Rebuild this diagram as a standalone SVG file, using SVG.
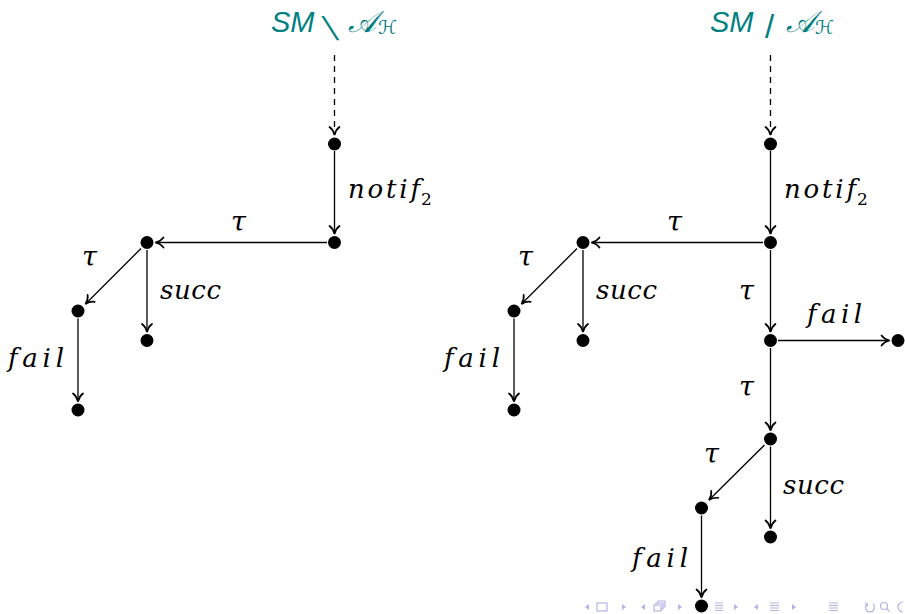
<svg xmlns="http://www.w3.org/2000/svg" width="905" height="614" viewBox="0 0 905 614">
<style>
.e{stroke:#000;stroke-width:1.3;fill:none;marker-end:url(#ah)}
.d{stroke:#000;stroke-width:1.3;fill:none;stroke-dasharray:6 5;marker-end:url(#ah)}
.n{fill:#000}
.l{font-family:"DejaVu Serif","Liberation Serif",serif;font-style:italic;font-size:26px;fill:#000}
.g{font-family:"DejaVu Serif","Liberation Serif",serif;font-style:italic;font-size:27px;fill:#000}
.s{font-family:"DejaVu Serif","Liberation Serif",serif;font-size:17px;fill:#000}
.t{font-family:"Liberation Sans","DejaVu Sans",sans-serif;font-style:italic;font-size:29px;fill:#008080}
.k{font-family:"Liberation Sans","DejaVu Sans",sans-serif;font-size:33px;fill:#008080}
.c{font-family:"DejaVu Sans","Noto Sans",sans-serif;fill:#008080}
.nav{fill:#b4b4e4;stroke:none}
.navs{fill:none;stroke:#b4b4e4;stroke-width:1.2}
</style>
<defs>
<marker id="ah" viewBox="-10 -7 12 14" refX="0" refY="0" markerWidth="12" markerHeight="14" markerUnits="userSpaceOnUse" orient="auto">
<path d="M-8,-5 C-6,-2.2 -2.5,-0.6 0,0 C-2.5,0.6 -6,2.2 -8,5" stroke="#000" stroke-width="1.7" fill="none" stroke-linecap="round"/>
</marker>
</defs>

<g id="title-left">
<text class="t" x="271" y="32">SM</text>
<text class="k" transform="translate(330,40) skewX(20)" x="0" y="0">\</text>
<text class="c" x="348" y="32" font-size="30" font-style="italic">𝒜</text>
<text class="c" x="378" y="34" font-size="19">ℋ</text>
</g>
<g id="title-right">
<text class="t" x="710" y="32">SM</text>
<text class="k" x="765" y="38">/</text>
<text class="c" x="786" y="32" font-size="30" font-style="italic">𝒜</text>
<text class="c" x="815" y="34" font-size="19">ℋ</text>
</g>

<g id="connectors">
<path class="d" d="M334.5,55 V135"/>
<path class="e" d="M334.5,151 V234"/>
<path class="e" d="M327,242.5 H155.5"/>
<path class="e" d="M141,248.5 L85.5,304"/>
<path class="e" d="M147,250 V332"/>
<path class="e" d="M78,318.5 V401.5"/>

<path class="d" d="M770.5,55 V135"/>
<path class="e" d="M770.5,151 V234"/>
<path class="e" d="M763,242.5 H591.5"/>
<path class="e" d="M577,248.5 L521.5,304"/>
<path class="e" d="M583,250 V332"/>
<path class="e" d="M514,318.5 V401.5"/>
<path class="e" d="M770.5,250 V332"/>
<path class="e" d="M778,340.5 H889.5"/>
<path class="e" d="M770.5,348 V430.5"/>
<path class="e" d="M764.5,445 L709,500"/>
<path class="e" d="M770.5,446.5 V528.5"/>
<path class="e" d="M701.5,515.5 V597.5"/>
</g>

<g id="labels">
<text class="l" x="348" y="198" textLength="72" lengthAdjust="spacing">notif</text><text class="s" x="421" y="205">2</text>
<text class="g" x="231" y="231">τ</text>
<text class="g" x="82" y="266">τ</text>
<text class="l" x="160" y="299" textLength="61" lengthAdjust="spacing">succ</text>
<text class="l" x="8" y="367" textLength="56" lengthAdjust="spacing">fail</text>

<text class="l" x="784" y="198" textLength="72" lengthAdjust="spacing">notif</text><text class="s" x="857" y="205">2</text>
<text class="g" x="667" y="231">τ</text>
<text class="g" x="518" y="266">τ</text>
<text class="l" x="596" y="299" textLength="61" lengthAdjust="spacing">succ</text>
<text class="l" x="444" y="367" textLength="56" lengthAdjust="spacing">fail</text>
<text class="g" x="739" y="300">τ</text>
<text class="l" x="807" y="323" textLength="55" lengthAdjust="spacing">fail</text>
<text class="g" x="739" y="396">τ</text>
<text class="g" x="704" y="463">τ</text>
<text class="l" x="783" y="494" textLength="61" lengthAdjust="spacing">succ</text>
<text class="l" x="632" y="567" textLength="56" lengthAdjust="spacing">fail</text>
</g>

<g id="nodes-left">
<circle id="L1" class="n" cx="334.5" cy="144" r="6.5"/>
<circle id="L2" class="n" cx="334.5" cy="242.5" r="6.5"/>
<circle id="L3" class="n" cx="147" cy="242.5" r="6.5"/>
<circle id="L4" class="n" cx="78" cy="311" r="6.5"/>
<circle id="L5" class="n" cx="147" cy="340.5" r="6.5"/>
<circle id="L6" class="n" cx="78" cy="410" r="6.5"/>
</g>
<g id="nodes-right">
<circle id="R1" class="n" cx="770.5" cy="144" r="6.5"/>
<circle id="R2" class="n" cx="770.5" cy="242.5" r="6.5"/>
<circle id="R3" class="n" cx="583" cy="242.5" r="6.5"/>
<circle id="R4" class="n" cx="514" cy="311" r="6.5"/>
<circle id="R5" class="n" cx="583" cy="340.5" r="6.5"/>
<circle id="R6" class="n" cx="514" cy="410" r="6.5"/>
<circle id="R7" class="n" cx="770.5" cy="340.5" r="6.5"/>
<circle id="R8" class="n" cx="898" cy="340.5" r="6.5"/>
<circle id="R9" class="n" cx="770.5" cy="439" r="6.5"/>
<circle id="R10" class="n" cx="701.5" cy="508" r="6.5"/>
<circle id="R11" class="n" cx="770.5" cy="537" r="6.5"/>
</g>

<g id="nav">
<path class="nav" d="M585,607 l4,-3 v6 z"/>
<rect class="navs" x="597" y="603" width="10" height="8"/>
<path class="nav" d="M622,604 l4,3 l-4,3 z"/>
<path class="nav" d="M641,607 l4,-3 v6 z"/>
<rect class="navs" x="654" y="605" width="7" height="6"/>
<path class="navs" d="M656,605 v-2 h7 v6 h-2 M658,603 v-2 h7 v6 h-2"/>
<path class="nav" d="M678,604 l4,3 l-4,3 z"/>
<path class="navs" d="M715,603 h8 M715,605.5 h8 M715,608 h8 M715,610.5 h8"/>
<path class="nav" d="M734,604 l4,3 l-4,3 z"/>
<path class="nav" d="M754,607 l4,-3 v6 z"/>
<path class="navs" d="M770,603 h9 M770,605.5 h9 M770,608 h9 M770,610.5 h9"/>
<path class="nav" d="M792,604 l4,3 l-4,3 z"/>
<path class="navs" d="M829,603 h9 M829,605.5 h9 M829,608 h9 M829,610.5 h9"/>
<path class="navs" d="M867,604 a4.5,4.5 0 1 0 6,0 M865,603 l2.5,1 l-0.5,2.5"/>
<circle class="navs" cx="884" cy="606" r="3.5"/>
<path class="navs" d="M886.5,608.5 l3,3"/>
<path class="navs" d="M903,602 a5,5 0 0 0 0,10"/>
</g>
<circle id="R12" class="n" cx="701.5" cy="606" r="6.5"/>
</svg>
